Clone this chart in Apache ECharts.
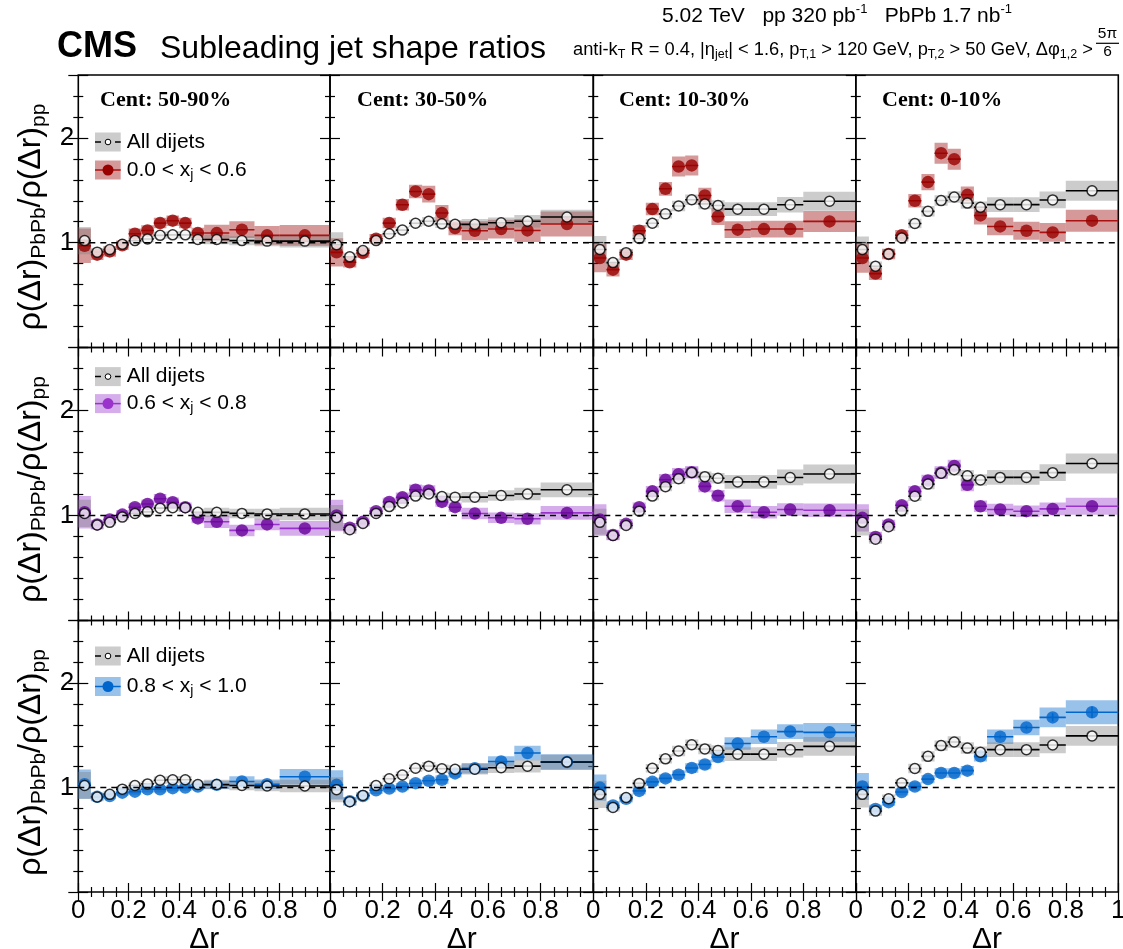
<!DOCTYPE html>
<html><head><meta charset="utf-8">
<script src="https://cdn.jsdelivr.net/npm/echarts@6.0.0/dist/echarts.min.js"></script>
<style>html,body{margin:0;padding:0;background:#fff}#c{width:1123px;height:949px}</style>
</head><body><div id="c"></div>
<script>
// ---------- bins (Δr) ----------
const binLo = [0, 0.05, 0.1, 0.15, 0.2, 0.25, 0.3, 0.35, 0.4, 0.45, 0.5, 0.6, 0.7, 0.8];
const binHi = [0.05, 0.1, 0.15, 0.2, 0.25, 0.3, 0.35, 0.4, 0.45, 0.5, 0.6, 0.7, 0.8, 1.0];
const binCenter = [0.025, 0.075, 0.125, 0.175, 0.225, 0.275, 0.325, 0.375, 0.425, 0.475, 0.55, 0.65, 0.75, 0.9];

const centralityLabels = ['Cent: 50-90%', 'Cent: 30-50%', 'Cent: 10-30%', 'Cent: 0-10%'];
const allDijetsLabel = 'All dijets';
const xjLabels = [['0.0 < x', ' < 0.6'], ['0.6 < x', ' < 0.8'], ['0.8 < x', ' < 1.0']];
const yTickLabels = [1, 2];

// ---------- All dijets (per centrality) ----------
const all_50_90 = [1.02, 0.91, 0.935, 0.985, 1.02, 1.035, 1.07, 1.075, 1.075, 1.03, 1.03, 1.02, 1.015, 1.015];
const all_30_50 = [0.98, 0.865, 0.925, 1.02, 1.085, 1.12, 1.185, 1.205, 1.18, 1.175, 1.175, 1.19, 1.205, 1.245];
const all_10_30 = [0.935, 0.81, 0.905, 1.04, 1.185, 1.275, 1.35, 1.41, 1.37, 1.355, 1.32, 1.32, 1.362, 1.395];
const all_0_10  = [0.935, 0.775, 0.893, 1.045, 1.183, 1.299, 1.402, 1.436, 1.378, 1.338, 1.363, 1.363, 1.408, 1.495];
const allSys_50_90 = [0.13, 0.04, 0.03, 0.03, 0.03, 0.03, 0.035, 0.035, 0.035, 0.035, 0.045, 0.045, 0.05, 0.06];
const allSys_30_50 = [0.12, 0.04, 0.03, 0.03, 0.03, 0.035, 0.035, 0.04, 0.04, 0.04, 0.05, 0.05, 0.06, 0.07];
const allSys_10_30 = [0.13, 0.04, 0.035, 0.035, 0.04, 0.045, 0.05, 0.05, 0.05, 0.05, 0.065, 0.065, 0.075, 0.09];
const allSys_0_10  = [0.125, 0.045, 0.04, 0.035, 0.045, 0.05, 0.05, 0.055, 0.055, 0.055, 0.07, 0.07, 0.08, 0.095];

// ---------- 0.0 < xj < 0.6 ----------
const xjLow_50_90 = [0.971, 0.886, 0.917, 0.975, 1.086, 1.117, 1.187, 1.21, 1.187, 1.092, 1.092, 1.124, 1.07, 1.07];
const xjLow_30_50 = [0.908, 0.813, 0.902, 1.038, 1.187, 1.362, 1.489, 1.463, 1.283, 1.14, 1.114, 1.13, 1.117, 1.178];
const xjLow_10_30 = [0.854, 0.743, 0.886, 1.114, 1.321, 1.514, 1.727, 1.737, 1.45, 1.25, 1.124, 1.13, 1.13, 1.203];
const xjLow_0_10  = [0.854, 0.705, 0.892, 1.07, 1.4, 1.578, 1.854, 1.797, 1.457, 1.26, 1.155, 1.114, 1.098, 1.21];
const xjLowSys_50_90 = [0.165, 0.05, 0.05, 0.045, 0.05, 0.05, 0.05, 0.05, 0.05, 0.05, 0.08, 0.08, 0.09, 0.1];
const xjLowSys_30_50 = [0.135, 0.05, 0.045, 0.045, 0.05, 0.055, 0.065, 0.08, 0.077, 0.07, 0.09, 0.09, 0.11, 0.12];
const xjLowSys_10_30 = [0.135, 0.065, 0.05, 0.055, 0.06, 0.065, 0.095, 0.095, 0.075, 0.08, 0.08, 0.08, 0.08, 0.1];
const xjLowSys_0_10  = [0.14, 0.06, 0.05, 0.05, 0.065, 0.077, 0.1, 0.1, 0.08, 0.087, 0.085, 0.085, 0.09, 0.105];

// ---------- 0.6 < xj < 0.8 ----------
const xjMid_50_90 = [1.031, 0.915, 0.962, 1.009, 1.079, 1.11, 1.16, 1.126, 1.079, 0.972, 0.94, 0.858, 0.915, 0.877];
const xjMid_30_50 = [1.0, 0.884, 0.94, 1.041, 1.129, 1.173, 1.245, 1.239, 1.129, 1.079, 1.019, 0.978, 0.969, 1.025];
const xjMid_10_30 = [0.962, 0.814, 0.921, 1.079, 1.23, 1.34, 1.393, 1.412, 1.277, 1.189, 1.088, 1.031, 1.057, 1.05];
const xjMid_0_10  = [0.978, 0.796, 0.915, 1.097, 1.23, 1.333, 1.409, 1.472, 1.292, 1.088, 1.057, 1.041, 1.063, 1.088];
const xjMidSys_50_90 = [0.155, 0.045, 0.04, 0.04, 0.04, 0.04, 0.045, 0.045, 0.045, 0.045, 0.06, 0.055, 0.055, 0.07];
const xjMidSys_30_50 = [0.15, 0.045, 0.04, 0.04, 0.04, 0.045, 0.05, 0.05, 0.045, 0.045, 0.055, 0.05, 0.055, 0.065];
const xjMidSys_10_30 = [0.145, 0.05, 0.045, 0.045, 0.05, 0.055, 0.06, 0.06, 0.055, 0.055, 0.065, 0.06, 0.06, 0.065];
const xjMidSys_0_10  = [0.13, 0.05, 0.045, 0.045, 0.05, 0.055, 0.06, 0.06, 0.06, 0.055, 0.055, 0.055, 0.06, 0.08];

// ---------- 0.8 < xj < 1.0 ----------
const xjHigh_50_90 = [1.032, 0.912, 0.919, 0.951, 0.961, 0.984, 0.984, 0.994, 1.0, 1.01, 1.026, 1.058, 1.032, 1.104];
const xjHigh_30_50 = [1.026, 0.87, 0.919, 0.974, 0.99, 1.01, 1.042, 1.065, 1.075, 1.136, 1.185, 1.25, 1.331, 1.244];
const xjHigh_10_30 = [1.0, 0.828, 0.893, 0.968, 1.055, 1.088, 1.123, 1.188, 1.221, 1.292, 1.422, 1.487, 1.536, 1.529];
const xjHigh_0_10  = [1.01, 0.795, 0.86, 0.958, 1.01, 1.081, 1.14, 1.14, 1.162, 1.299, 1.487, 1.575, 1.672, 1.721];
const xjHighSys_50_90 = [0.14, 0.035, 0.03, 0.03, 0.03, 0.03, 0.03, 0.03, 0.03, 0.035, 0.04, 0.05, 0.045, 0.075];
const xjHighSys_30_50 = [0.14, 0.04, 0.035, 0.035, 0.035, 0.035, 0.035, 0.035, 0.04, 0.04, 0.05, 0.05, 0.07, 0.075];
const xjHighSys_10_30 = [0.125, 0.04, 0.035, 0.035, 0.04, 0.04, 0.04, 0.045, 0.045, 0.05, 0.06, 0.07, 0.07, 0.09];
const xjHighSys_0_10  = [0.13, 0.04, 0.035, 0.035, 0.04, 0.04, 0.045, 0.045, 0.045, 0.05, 0.07, 0.075, 0.095, 0.115];
const xjHighStat_0_10 = [0, 0, 0, 0, 0, 0, 0, 0, 0, 0, 0.015, 0.02, 0.04, 0.055];

// ---------- assemble ----------
const allByCent = [all_50_90, all_30_50, all_10_30, all_0_10];
const allSysByCent = [allSys_50_90, allSys_30_50, allSys_10_30, allSys_0_10];
const subsetRows = [
  { vals: [xjLow_50_90, xjLow_30_50, xjLow_10_30, xjLow_0_10], sys: [xjLowSys_50_90, xjLowSys_30_50, xjLowSys_10_30, xjLowSys_0_10], stat: [null, null, null, null],
    marker: '#990000', line: '#aa1111', box: 'rgba(153,0,0,0.4)', legendMarker: '#990000' },
  { vals: [xjMid_50_90, xjMid_30_50, xjMid_10_30, xjMid_0_10], sys: [xjMidSys_50_90, xjMidSys_30_50, xjMidSys_10_30, xjMidSys_0_10], stat: [null, null, null, null],
    marker: '#660099', line: '#9933cc', box: 'rgba(153,51,204,0.4)', legendMarker: '#9933cc' },
  { vals: [xjHigh_50_90, xjHigh_30_50, xjHigh_10_30, xjHigh_0_10], sys: [xjHighSys_50_90, xjHighSys_30_50, xjHighSys_10_30, xjHighSys_0_10], stat: [null, null, null, xjHighStat_0_10],
    marker: '#0066cc', line: '#0066cc', box: 'rgba(0,102,204,0.4)', legendMarker: '#0066cc' }
];

const SANS = "'Liberation Sans', Arial, Helvetica, sans-serif";
const SERIF = "'Liberation Serif', 'Times New Roman', serif";
const cols = [{ left: 78.3, width: 251.7 }, { left: 330, width: 263.3 }, { left: 593.3, width: 262.5 }, { left: 855.8, width: 262.5 }];
const rows = [{ top: 75, height: 272.5 }, { top: 347.5, height: 273 }, { top: 620.5, height: 271.5 }];
const GRAY_BOX = 'rgba(128,128,128,0.4)';

function boxData(v, s) { return v.map((y, i) => [binLo[i], binHi[i], y - s[i], y + s[i]]); }
function barData(v, st) { return v.map((y, i) => [binLo[i], binHi[i], y, binCenter[i], st ? st[i] : 0]); }
function boxRenderer(color) {
  return function (params, api) {
    const a = api.coord([api.value(0), api.value(3)]);
    const b = api.coord([api.value(1), api.value(2)]);
    return { type: 'rect', shape: { x: a[0], y: a[1], width: b[0] - a[0], height: b[1] - a[1] }, style: { fill: color } };
  };
}
function barRenderer(color) {
  return function (params, api) {
    const y = api.value(2);
    const a = api.coord([api.value(0), y]);
    const b = api.coord([api.value(1), y]);
    const ch = [{ type: 'line', shape: { x1: a[0], y1: a[1], x2: b[0], y2: b[1] }, style: { stroke: color, lineWidth: 1.6 } }];
    const st = api.value(4);
    if (st > 0) {
      const c1 = api.coord([api.value(3), y - st]);
      const c2 = api.coord([api.value(3), y + st]);
      ch.push({ type: 'line', shape: { x1: c1[0], y1: c1[1], x2: c2[0], y2: c2[1] }, style: { stroke: color, lineWidth: 1.6 } });
    }
    return { type: 'group', children: ch };
  };
}

const tickLine = { color: '#000', width: 1.2 };
const grids = [], xAxes = [], yAxes = [], series = [];
for (let r = 0; r < 3; r++) {
  for (let c = 0; c < 4; c++) {
    const gi = r * 4 + c;
    grids.push({ left: cols[c].left, top: rows[r].top, width: cols[c].width, height: rows[r].height,
      show: true, borderColor: '#000', borderWidth: 1.6, backgroundColor: 'transparent', containLabel: false, outerBoundsMode: 'none' });
    const xBase = { type: 'value', gridIndex: gi, min: 0, max: 1, interval: 0.2,
      axisLine: { show: false }, splitLine: { show: false },
      axisTick: { show: true, inside: true, length: 9, lineStyle: tickLine },
      minorTick: { show: true, splitNumber: 4, length: 5, lineStyle: tickLine } };
    xAxes.push(Object.assign({}, xBase, { position: 'bottom',
      axisLabel: { show: r === 2, fontSize: 26, fontFamily: SANS, color: '#000', margin: 6, showMinLabel: true, showMaxLabel: true,
        formatter: v => (Math.abs(v - 1) < 1e-9 && c < 3) ? '' : (Math.abs(v) < 1e-9 ? '0' : (Math.abs(v - 1) < 1e-9 ? '1' : v.toFixed(1))) },
      name: r === 2 ? 'Δr' : '', nameLocation: 'middle', nameGap: 27,
      nameTextStyle: { fontSize: 30, fontFamily: SANS, color: '#000' } }));
    xAxes.push(Object.assign({}, xBase, { position: 'top', axisLabel: { show: false } }));
    const yBase = { type: 'value', gridIndex: gi, min: 0, max: 2.6, interval: 1,
      axisLine: { show: false }, splitLine: { show: false },
      axisTick: { show: true, inside: true, length: 10, lineStyle: tickLine },
      minorTick: { show: true, splitNumber: 5, length: 5, lineStyle: tickLine } };
    yAxes.push(Object.assign({}, yBase, { position: 'left',
      axisLabel: { show: c === 0, fontSize: 26, fontFamily: SANS, color: '#000', margin: 4,
        formatter: v => yTickLabels.indexOf(Math.round(v * 1000) / 1000) >= 0 ? String(Math.round(v)) : '' } }));
    yAxes.push(Object.assign({}, yBase, { position: 'right', axisLabel: { show: false } }));

    const sub = subsetRows[r];
    const xi = 2 * gi, yi = 2 * gi;
    const common = { xAxisIndex: xi, yAxisIndex: yi, silent: true, animation: false };
    series.push(Object.assign({ type: 'custom', renderItem: boxRenderer(sub.box), data: boxData(sub.vals[c], sub.sys[c]), encode: { x: [0, 1], y: [2, 3] }, clip: true }, common));
    series.push(Object.assign({ type: 'custom', renderItem: boxRenderer(GRAY_BOX), data: boxData(allByCent[c], allSysByCent[c]), encode: { x: [0, 1], y: [2, 3] }, clip: true }, common));
    series.push(Object.assign({ type: 'line', data: [[0, 1], [1, 1]], symbol: 'none', lineStyle: { color: '#000', width: 1.5, type: [6, 5] } }, common));
    series.push(Object.assign({ type: 'custom', renderItem: barRenderer(sub.line), data: barData(sub.vals[c], sub.stat[c]), encode: { x: [0, 1], y: [2] }, clip: true }, common));
    series.push(Object.assign({ type: 'scatter', data: sub.vals[c].map((v, i) => [binCenter[i], v]), symbol: 'circle', symbolSize: 12.5, itemStyle: { color: sub.marker } }, common));
    series.push(Object.assign({ type: 'custom', renderItem: barRenderer('#000'), data: barData(allByCent[c], null), encode: { x: [0, 1], y: [2] }, clip: true }, common));
    series.push(Object.assign({ type: 'scatter', data: allByCent[c].map((v, i) => [binCenter[i], v]), symbol: 'circle', symbolSize: 10, itemStyle: { color: '#fff', borderColor: '#000', borderWidth: 1.5 } }, common));
  }
}

// ---------- text / legend graphics ----------
function txt(x, y, text, extra) {
  return { type: 'text', x: x, y: y, z: 100, silent: true,
    style: Object.assign({ text: text, fill: '#000', fontFamily: SANS, fontSize: 20, align: 'left', verticalAlign: 'middle',
      textAlign: 'left', textVerticalAlign: 'middle' }, extra || {}) };
}
const graphics = [];
graphics.push(txt(57, 47, 'CMS', { fontSize: 36, fontWeight: 'bold' }));
graphics.push(txt(160, 49, 'Subleading jet shape ratios', { fontSize: 32 }));
graphics.push(txt(837, 16, '5.02 TeV   pp 320 pb{u|-1}   PbPb 1.7 nb{u|-1}', {
  fontSize: 21, align: 'center', textAlign: 'center', lineHeight: 26,
  rich: { u: { fontSize: 13, fontFamily: SANS, verticalAlign: 'top', lineHeight: 10 } } }));
const subRich = { s: { fontSize: 12.5, fontFamily: SANS, verticalAlign: 'bottom', lineHeight: 8 } };
graphics.push(txt(1093, 50, 'anti-k{s|T} R = 0.4, |η{s|jet}| < 1.6, p{s|T,1} > 120 GeV, p{s|T,2} > 50 GeV, Δφ{s|1,2} >', {
  fontSize: 18.3, align: 'right', textAlign: 'right', lineHeight: 22, rich: subRich }));
graphics.push(txt(1107.5, 34, '5π', { fontSize: 15.5, align: 'center', textAlign: 'center' }));
graphics.push({ type: 'line', z: 100, silent: true, shape: { x1: 1096, y1: 43.3, x2: 1119, y2: 43.3 }, style: { stroke: '#000', lineWidth: 1.2 } });
graphics.push(txt(1107.5, 52, '6', { fontSize: 15.5, align: 'center', textAlign: 'center' }));

// centrality labels
const centX = [100, 357, 619, 882];
for (let c = 0; c < 4; c++) graphics.push(txt(centX[c], 100, centralityLabels[c], { fontSize: 22, fontWeight: 'bold', fontFamily: SERIF }));

// y-axis titles
for (let r = 0; r < 3; r++) {
  graphics.push({ type: 'text', x: 31, y: rows[r].top + 142, rotation: Math.PI / 2, z: 100, silent: true,
    style: { text: '{m|ρ(Δr)}{s|PbPb}{m|/ρ(Δr)}{s|pp}', fill: '#000', align: 'center', verticalAlign: 'middle', textAlign: 'center', textVerticalAlign: 'middle',
      rich: { m: { fontSize: 32, fontFamily: SANS, lineHeight: 38 }, s: { fontSize: 21, fontFamily: SANS, lineHeight: 11, verticalAlign: 'bottom' } } } });
}

// legends
const legendGrayY = [142, 376.6, 656];
const legendSubY = [170, 403.6, 686.5];
for (let r = 0; r < 3; r++) {
  const sub = subsetRows[r];
  const gy = legendGrayY[r], sy = legendSubY[r];
  graphics.push({ type: 'rect', z: 90, silent: true, shape: { x: 95, y: gy - 9.5, width: 25.7, height: 19 }, style: { fill: GRAY_BOX } });
  graphics.push({ type: 'line', z: 91, silent: true, shape: { x1: 95, y1: gy, x2: 120.7, y2: gy }, style: { stroke: '#000', lineWidth: 1.5, lineDash: [6, 4] } });
  graphics.push({ type: 'circle', z: 92, silent: true, shape: { cx: 108, cy: gy, r: 2.8 }, style: { fill: '#fff', stroke: '#000', lineWidth: 1 } });
  graphics.push(txt(126.7, gy, allDijetsLabel, { fontSize: 21 }));
  graphics.push({ type: 'rect', z: 90, silent: true, shape: { x: 95, y: sy - 9.5, width: 25.7, height: 19 }, style: { fill: sub.box } });
  graphics.push({ type: 'line', z: 91, silent: true, shape: { x1: 95, y1: sy, x2: 120.7, y2: sy }, style: { stroke: sub.line, lineWidth: 1.5 } });
  graphics.push({ type: 'circle', z: 92, silent: true, shape: { cx: 108, cy: sy, r: 5.5 }, style: { fill: sub.legendMarker } });
  graphics.push(txt(126.7, sy, xjLabels[r][0] + '{s|j}' + xjLabels[r][1], { fontSize: 21, lineHeight: 24,
    rich: { s: { fontSize: 14, fontFamily: SANS, verticalAlign: 'bottom', lineHeight: 6 } } }));
}

const chart = echarts.init(document.getElementById('c'), null, { renderer: 'canvas' });
chart.setOption({
  animation: false,
  backgroundColor: '#fff',
  grid: grids, xAxis: xAxes, yAxis: yAxes, series: series,
  graphic: { elements: graphics }
});
</script></body></html>
